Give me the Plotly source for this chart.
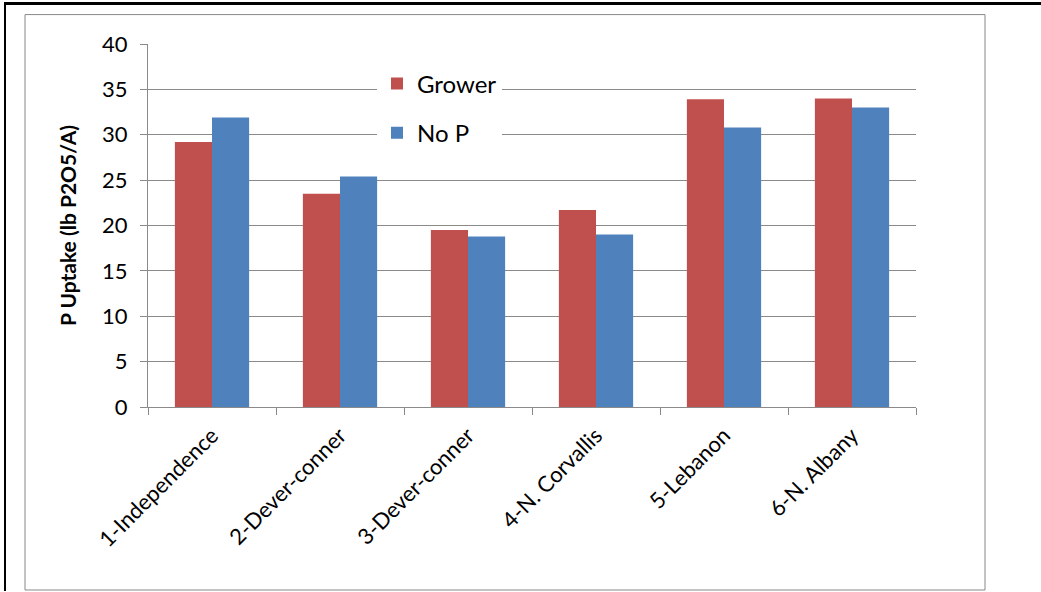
import plotly.graph_objects as go

categories = ["1-Independence", "2-Dever-conner", "3-Dever-conner", "4-N. Corvallis", "5-Lebanon", "6-N. Albany"]
grower = [29.2, 23.5, 19.5, 21.7, 33.9, 34.0]
no_p = [31.9, 25.4, 18.8, 19.0, 30.8, 33.0]
y_ticks = [0, 5, 10, 15, 20, 25, 30, 35, 40]

W, H = 1041, 592
ML, MR, MT, MB = 148, 125, 43.5, 184.5
PW, PH = W - ML - MR, H - MT - MB

def px(x):
    return (x - ML) / PW

def py(y):
    return (H - MB - y) / PH

FONT = "Lato, 'Open Sans', sans-serif"
GRID = "#8a8a8a"

fig = go.Figure()
fig.add_trace(go.Bar(x=categories, y=grower, name="Grower", legendgroup="g",
                     marker=dict(color="#C0504D", line=dict(width=0))))
fig.add_trace(go.Bar(x=categories, y=no_p, name="No P", legendgroup="n",
                     marker=dict(color="#4F81BD", line=dict(width=0))))

shapes = [
    dict(type="rect", xref="paper", yref="paper", x0=px(25), x1=px(985), y0=py(14), y1=py(591),
         line=dict(color="#888888", width=1), fillcolor="rgba(0,0,0,0)", layer="below"),
    dict(type="line", xref="paper", yref="paper", x0=px(4), x1=px(1041), y0=py(3), y1=py(3),
         line=dict(color="black", width=3)),
    dict(type="line", xref="paper", yref="paper", x0=px(5), x1=px(5), y0=py(2), y1=py(592),
         line=dict(color="black", width=2)),
]

fig.update_layout(
    width=W, height=H,
    margin=dict(l=ML, r=MR, t=MT, b=MB, autoexpand=False),
    paper_bgcolor="white", plot_bgcolor="white",
    barmode="group", bargap=0.42, bargroupgap=0,
    font=dict(family=FONT, size=22, color="black"),
    showlegend=True,
    legend=dict(x=px(377), y=py(61), xanchor="left", yanchor="top",
                bgcolor="white", borderwidth=0, font=dict(size=24, family=FONT),
                tracegroupgap=15, traceorder="grouped", itemwidth=30),
    xaxis=dict(showline=True, linecolor=GRID, linewidth=1, ticks="outside", tickson="boundaries",
               ticklen=7, tickcolor=GRID, tickangle=-45, showgrid=False, ticklabelstandoff=6,
               tickfont=dict(size=22, family=FONT)),
    yaxis=dict(range=[0, 40], tickvals=y_ticks, showline=True, linecolor=GRID, linewidth=1,
               ticks="outside", ticklen=7, tickcolor=GRID, showgrid=True, gridcolor=GRID,
               gridwidth=1, zeroline=False, tickfont=dict(size=22, family=FONT),
               ticklabelstandoff=8,
               title=dict(text="<b>P Uptake (lb P2O5/A)</b>", font=dict(size=21, family=FONT),
                          standoff=19)),
    shapes=shapes,
)

fig.write_html("out.html")
